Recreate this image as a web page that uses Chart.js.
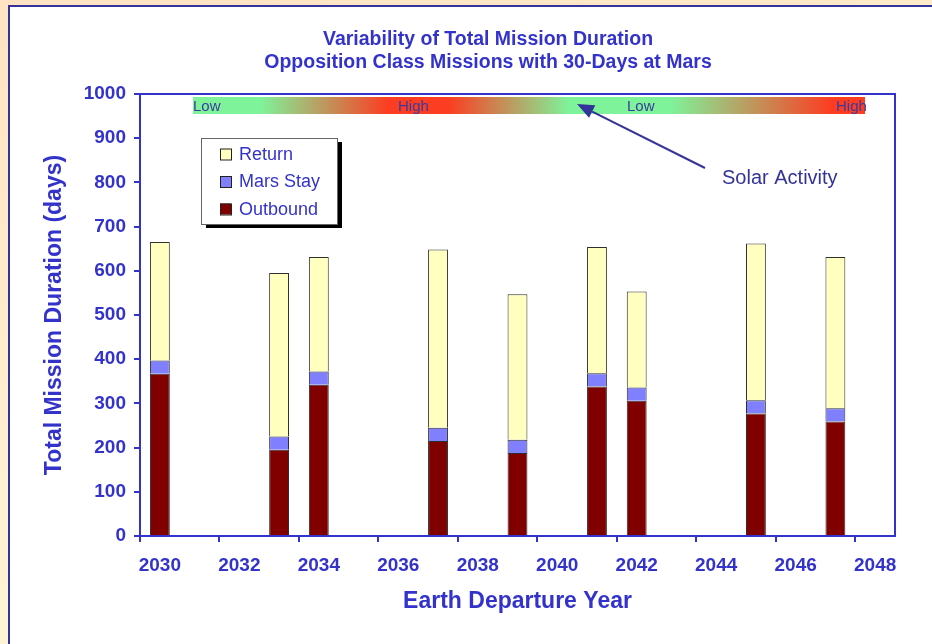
<!DOCTYPE html>
<html>
<head>
<meta charset="utf-8">
<script src="https://cdn.jsdelivr.net/npm/chart.js@4.4.1/dist/chart.umd.min.js"></script>
<style>
  body { margin: 0; width: 932px; height: 644px; overflow: hidden;
    background: linear-gradient(165deg, #ffe3c2 0%, #fff1d2 55%, #fff7dc 100%); }
  #pannello { position: absolute; left: 8px; top: 5px; width: 1000px; height: 700px; background: #fff;
    border-left: 2px solid #333399; border-top: 2px solid #333399; }
  #contenitore { position: absolute; left: 0; top: 0; }
</style>
</head>
<body>
<div id="pannello"></div>
<div id="contenitore"><canvas id="grafico" width="932" height="644"></canvas></div>
<script>
// anni sull'asse x (uno per categoria)
var anni = ['2030', '2031', '2032', '2033', '2034', '2035', '2036', '2037', '2038', '2039',
            '2040', '2041', '2042', '2043', '2044', '2045', '2046', '2047', '2048'];

// anni di partenza con missione e durata delle fasi (giorni)
var partenze = ['2030', '2033', '2034', '2037', '2039', '2041', '2042', '2045', '2047'];
var outbound = [367, 195, 342, 215, 188, 338, 306, 277, 259];
var marsStay = [30, 30, 30, 30, 30, 30, 30, 30, 30];
var ritorno = [268, 370, 259, 403, 329, 286, 217, 355, 342];

var titolo = ['Variability of Total Mission Duration', 'Opposition Class Missions with 30-Days at Mars'];
var fasiSolari = ['Low', 'High', 'Low', 'High'];

var blu = '#3333cc';
var font = '"Liberation Sans", Arial, sans-serif';
Chart.defaults.font.family = font;

// mette i valori sulla categoria giusta, null dove non c'e' missione
function perAnno(valori) {
  var out = [];
  for (var i = 0; i < anni.length; i++) {
    var k = partenze.indexOf(anni[i]);
    out.push(k < 0 ? null : valori[k]);
  }
  return out;
}

function serie(label, valori, colore) {
  return {
    label: label,
    data: perAnno(valori),
    backgroundColor: colore,
    borderColor: '#2e2e2e',
    borderWidth: 1,
    barPercentage: 0.5,
    categoryPercentage: 1.0
  };
}

var decorazioni = {
  id: 'decorazioni',
  afterDraw: function(chart) {
    var ctx = chart.ctx;
    var area = chart.chartArea;
    ctx.save();

    // cornice sopra e a destra del grafico
    ctx.strokeStyle = blu;
    ctx.lineWidth = 2;
    ctx.beginPath();
    ctx.moveTo(area.left, area.top);
    ctx.lineTo(area.right, area.top);
    ctx.lineTo(area.right, area.bottom);
    ctx.stroke();

    // titolo
    ctx.fillStyle = blu;
    ctx.font = 'bold 19.5px ' + font;
    ctx.textAlign = 'center';
    ctx.textBaseline = 'middle';
    ctx.fillText(titolo[0], 488, 40);
    ctx.fillText(titolo[1], 488, 63);

    // barra attivita' solare
    var x0 = 193, x1 = 865, y0 = 97, h = 17;
    var g = ctx.createLinearGradient(x0, 0, x1, 0);
    g.addColorStop(0, '#7ff39a');
    g.addColorStop(0.10, '#7ff39a');
    g.addColorStop(0.29, '#fc3d22');
    g.addColorStop(0.38, '#fc3d22');
    g.addColorStop(0.56, '#7ff39a');
    g.addColorStop(0.71, '#7ff39a');
    g.addColorStop(0.95, '#fc3d22');
    g.addColorStop(1, '#fc3d22');
    ctx.fillStyle = g;
    ctx.fillRect(x0, y0, x1 - x0, h);

    ctx.fillStyle = '#3b3b9e';
    ctx.font = '15px ' + font;
    ctx.textAlign = 'left';
    var posizioni = [193, 398, 627, 836];
    for (var i = 0; i < fasiSolari.length; i++) {
      ctx.fillText(fasiSolari[i], posizioni[i], y0 + h / 2 + 1);
    }

    // freccia e scritta Solar Activity
    var tx = 577, ty = 104, sx = 705, sy = 168;
    var ang = Math.atan2(ty - sy, tx - sx);
    var lung = 17, mezza = 7;
    var bx = tx - lung * Math.cos(ang), by = ty - lung * Math.sin(ang);
    ctx.strokeStyle = '#333399';
    ctx.fillStyle = '#333399';
    ctx.lineWidth = 2;
    ctx.beginPath();
    ctx.moveTo(sx, sy);
    ctx.lineTo(bx, by);
    ctx.stroke();
    ctx.beginPath();
    ctx.moveTo(tx, ty);
    ctx.lineTo(bx + mezza * Math.sin(ang), by - mezza * Math.cos(ang));
    ctx.lineTo(bx - mezza * Math.sin(ang), by + mezza * Math.cos(ang));
    ctx.closePath();
    ctx.fill();
    ctx.font = '20px ' + font;
    ctx.fillText('Solar Activity', 722, 178);

    // legenda con ombra
    var lx = 201, ly = 138, lw = 136, lh = 86;
    ctx.fillStyle = '#000';
    ctx.fillRect(lx + 5, ly + 4, lw, lh);
    ctx.fillStyle = '#fff';
    ctx.fillRect(lx, ly, lw, lh);
    ctx.strokeStyle = '#666';
    ctx.lineWidth = 1;
    ctx.strokeRect(lx + 0.5, ly + 0.5, lw, lh);
    var sets = chart.data.datasets;
    ctx.font = '18px ' + font;
    for (var j = 0; j < sets.length; j++) {
      var d = sets[sets.length - 1 - j];
      var cy = 154 + j * 27.5;
      ctx.fillStyle = d.backgroundColor;
      ctx.fillRect(220, cy - 5.5, 11, 11);
      ctx.strokeStyle = '#222';
      ctx.strokeRect(220.5, cy - 5, 11, 11);
      ctx.fillStyle = blu;
      ctx.fillText(d.label, 239, cy + 1);
    }
    ctx.restore();
  }
};

var grafico = new Chart(document.getElementById('grafico'), {
  type: 'bar',
  data: {
    labels: anni,
    datasets: [
      serie('Outbound', outbound, '#800000'),
      serie('Mars Stay', marsStay, '#8080ff'),
      serie('Return', ritorno, '#ffffc0')
    ]
  },
  options: {
    responsive: false,
    animation: false,
    devicePixelRatio: 1,
    layout: { padding: { top: 94, right: 37, left: 0, bottom: 0 } },
    plugins: {
      legend: { display: false },
      title: { display: false },
      tooltip: { enabled: false }
    },
    scales: {
      x: {
        stacked: true,
        offset: true,
        grid: {
          offset: true,
          drawOnChartArea: false,
          tickLength: 6,
          lineWidth: 2,
          color: function(c) { return c.index % 2 === 0 ? blu : 'rgba(0,0,0,0)'; }
        },
        border: { color: blu, width: 2 },
        ticks: {
          autoSkip: false,
          maxRotation: 0,
          padding: 12,
          color: blu,
          font: { size: 19, weight: 'bold' },
          callback: function(v, i) { return i % 2 === 0 ? this.getLabelForValue(v) : ''; }
        },
        title: {
          display: true,
          text: 'Earth Departure Year',
          color: blu,
          font: { size: 23, weight: 'bold' },
          padding: { top: 0, bottom: 29 }
        },
        afterFit: function(s) { s.height = 108; }
      },
      y: {
        stacked: true,
        min: 0,
        max: 1000,
        ticks: {
          stepSize: 100,
          padding: 8,
          color: blu,
          font: { size: 19, weight: 'bold' },
          callback: function(v) { return String(v); }
        },
        grid: { drawOnChartArea: false, tickLength: 6, lineWidth: 2, color: blu },
        border: { color: blu, width: 2 },
        title: {
          display: true,
          text: 'Total Mission Duration (days)',
          color: blu,
          font: { size: 23, weight: 'bold' },
          padding: { top: 41, bottom: 0 }
        },
        afterFit: function(s) { s.width = 140; }
      }
    }
  },
  plugins: [decorazioni]
});
</script>
</body>
</html>
